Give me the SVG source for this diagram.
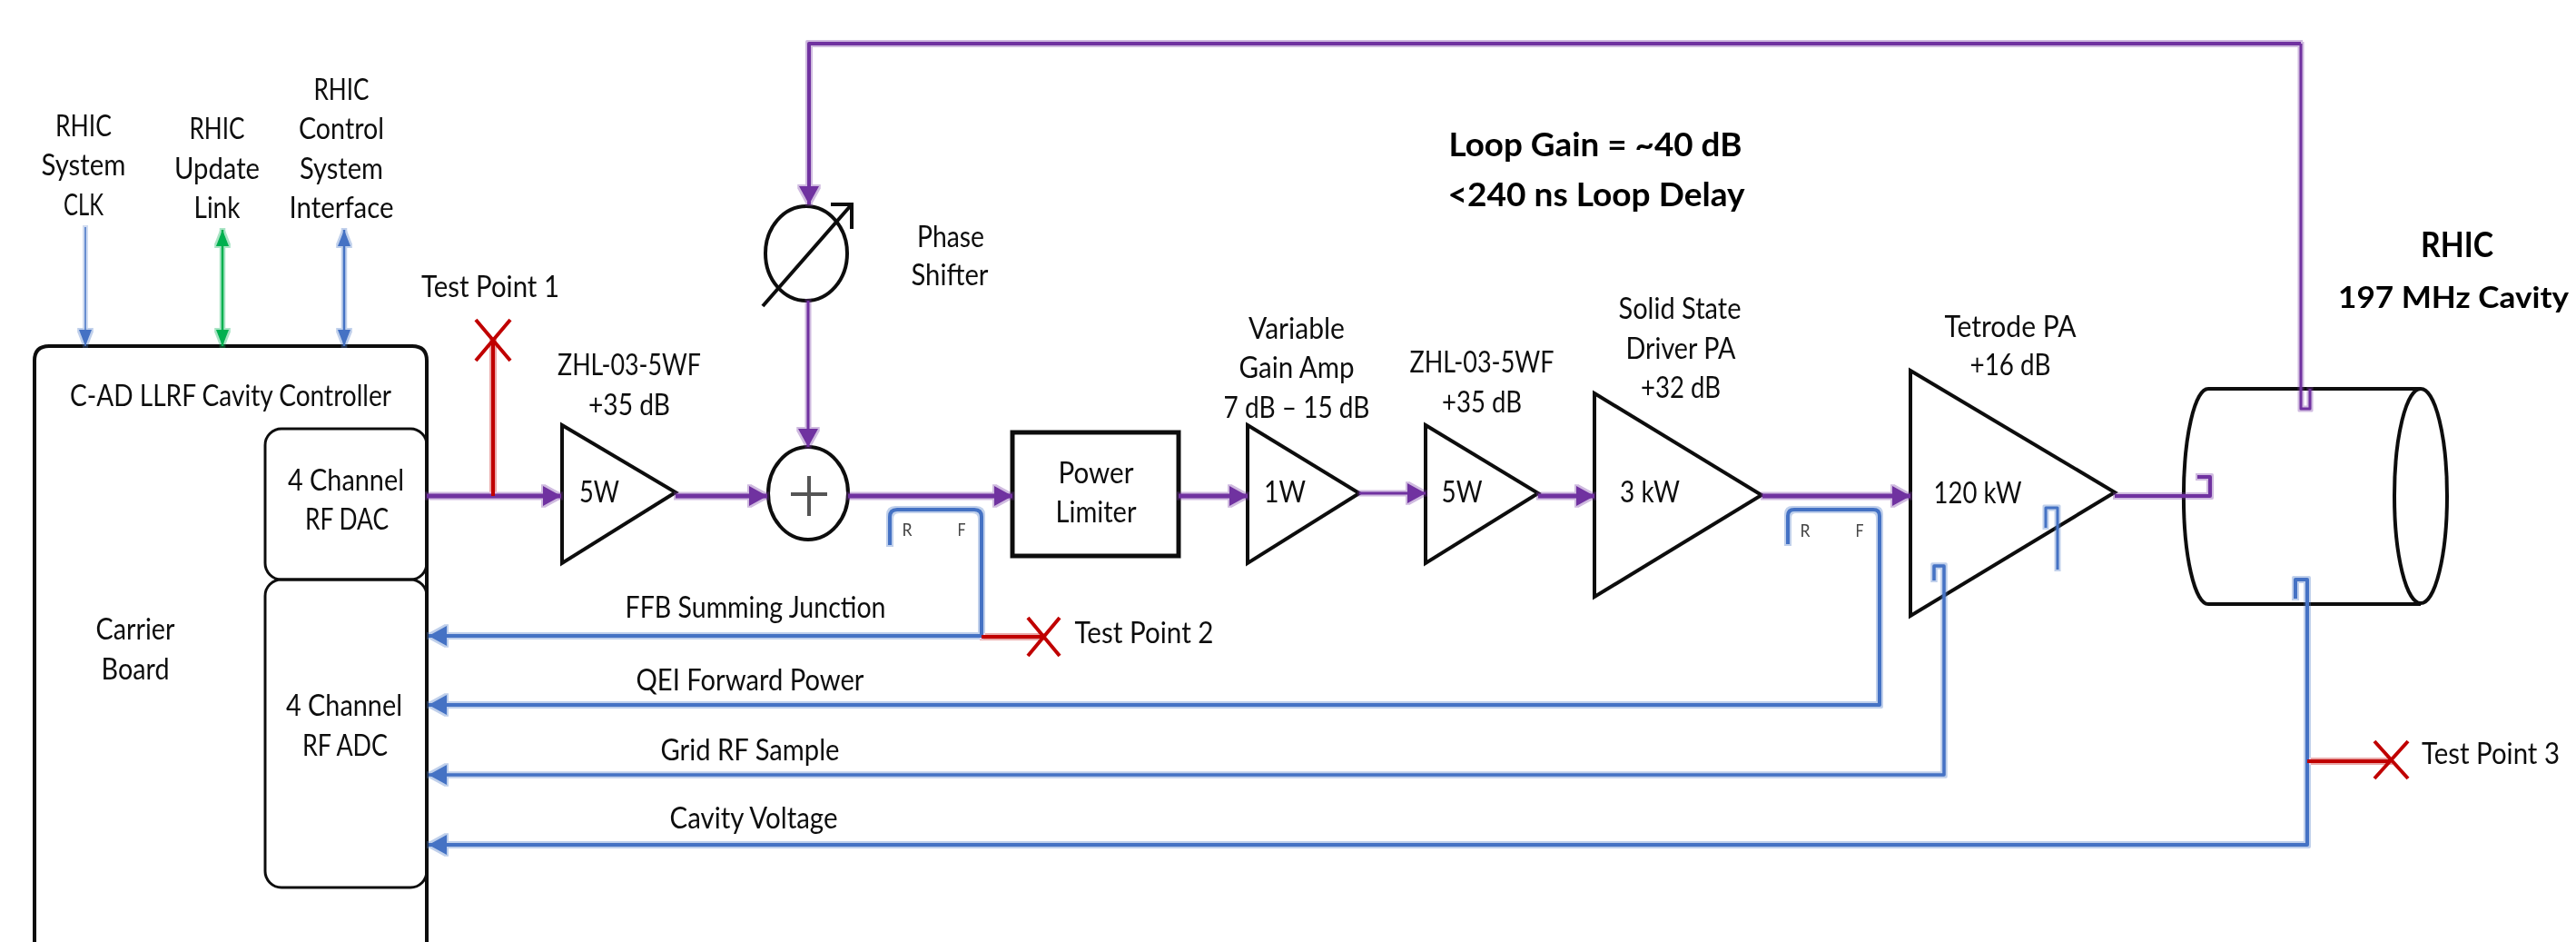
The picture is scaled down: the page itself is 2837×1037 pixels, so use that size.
<svg xmlns="http://www.w3.org/2000/svg" width="2837" height="1037" viewBox="0 0 2837 1037">
<style>
text{font-family:"Lato","Open Sans","Liberation Sans",sans-serif;font-size:33px;fill:#111;text-anchor:middle}
.b{font-weight:700;font-size:38px;fill:#000}
.s{font-size:20px;fill:#444}
.n{fill:none;stroke:#111;stroke-width:4;stroke-linejoin:miter}
.c{fill:none;stroke-linejoin:round}
.p{stroke:#7030A0;stroke-width:5}
.p3{stroke:#7030A0;stroke-width:3}
.u{stroke:#4472C4;stroke-width:4}
.u3{stroke:#4472C4;stroke-width:3}
.g{stroke:#00B050;stroke-width:2.5}
.r{stroke:#C00000;stroke-width:4}
.x{fill:none;stroke:#C00000;stroke-width:4}
</style>
<defs>
<marker id="ap" markerUnits="userSpaceOnUse" markerWidth="22" markerHeight="24" refX="20" refY="12" orient="auto"><path d="M0 1L20 12L0 23Z" fill="#7030A0"/></marker>
<marker id="ab" markerUnits="userSpaceOnUse" markerWidth="22" markerHeight="24" refX="20" refY="12" orient="auto"><path d="M0 1L20 12L0 23Z" fill="#4472C4"/></marker>
<marker id="as" markerUnits="userSpaceOnUse" markerWidth="20" markerHeight="18" refX="18" refY="9" orient="auto-start-reverse"><path d="M0 2L18 9L0 16Z" fill="#4472C4"/></marker>
<marker id="ag" markerUnits="userSpaceOnUse" markerWidth="20" markerHeight="18" refX="18" refY="9" orient="auto-start-reverse"><path d="M0 2L18 9L0 16Z" fill="#00B050"/></marker>
<filter id="halo" filterUnits="userSpaceOnUse" x="0" y="0" width="2837" height="1037"><feMorphology in="SourceGraphic" operator="dilate" radius="2" result="d"/><feComponentTransfer in="d" result="l"><feFuncA type="linear" slope="0.34"/></feComponentTransfer><feMerge><feMergeNode in="l"/><feMergeNode in="SourceGraphic"/></feMerge></filter>
<filter id="soft" filterUnits="userSpaceOnUse" x="0" y="0" width="2837" height="1037"><feGaussianBlur stdDeviation="0.55"/></filter>
</defs>
<rect width="2837" height="1037" fill="#fff"/>
<g filter="url(#soft)">
<g id="labels-inputs">
<text x="92" y="150" textLength="62" lengthAdjust="spacingAndGlyphs">RHIC</text>
<text x="92" y="193" textLength="93" lengthAdjust="spacingAndGlyphs">System</text>
<text x="92" y="237" textLength="44" lengthAdjust="spacingAndGlyphs">CLK</text>
<text x="239" y="153" textLength="61" lengthAdjust="spacingAndGlyphs">RHIC</text>
<text x="239" y="197" textLength="94" lengthAdjust="spacingAndGlyphs">Update</text>
<text x="239" y="240" textLength="51" lengthAdjust="spacingAndGlyphs">Link</text>
<text x="376" y="110" textLength="61" lengthAdjust="spacingAndGlyphs">RHIC</text>
<text x="376" y="153" textLength="94" lengthAdjust="spacingAndGlyphs">Control</text>
<text x="376" y="197" textLength="92" lengthAdjust="spacingAndGlyphs">System</text>
<text x="376" y="240" textLength="115" lengthAdjust="spacingAndGlyphs">Interface</text>
</g>
<g id="controller">
<path class="n" d="M38 1040V397Q38 381 54 381H454Q470 381 470 397V1040"/>
<text x="254" y="447" textLength="354" lengthAdjust="spacingAndGlyphs">C-AD LLRF Cavity Controller</text>
<text x="149" y="704" textLength="87" lengthAdjust="spacingAndGlyphs">Carrier</text>
<text x="149" y="748" textLength="75" lengthAdjust="spacingAndGlyphs">Board</text>
</g>
<g id="rf-dac">
<rect class="n" style="stroke-width:3" x="292" y="472" width="178" height="166" rx="18"/>
<text x="381" y="540" textLength="128" lengthAdjust="spacingAndGlyphs">4 Channel</text>
<text x="382" y="583" textLength="92" lengthAdjust="spacingAndGlyphs">RF DAC</text>
</g>
<g id="rf-adc">
<rect class="n" style="stroke-width:3" x="292" y="638" width="178" height="339" rx="18"/>
<text x="379" y="788" textLength="128" lengthAdjust="spacingAndGlyphs">4 Channel</text>
<text x="380" y="832" textLength="94" lengthAdjust="spacingAndGlyphs">RF ADC</text>
</g>
<g id="amp-5w-a">
<path class="n" d="M619 468L744 542L619 620Z"/>
<text x="660" y="553" textLength="44" lengthAdjust="spacingAndGlyphs">5W</text>
<text x="693" y="413" textLength="158" lengthAdjust="spacingAndGlyphs">ZHL-03-5WF</text>
<text x="693" y="457" textLength="90" lengthAdjust="spacingAndGlyphs">+35 dB</text>
</g>
<g id="phase-shifter">
<ellipse class="n" cx="888" cy="279" rx="45" ry="52"/>
<path class="n" d="M840 337L938 225M915 225H938V252"/>
<text x="1047" y="272" textLength="74" lengthAdjust="spacingAndGlyphs">Phase</text>
<text x="1046" y="314" textLength="85" lengthAdjust="spacingAndGlyphs">Shifter</text>
</g>
<g id="summing-junction">
<ellipse class="n" cx="890" cy="543" rx="44" ry="51"/>
<path d="M871 544H911M891 524V568" fill="none" stroke="#555" stroke-width="4"/>
</g>
<g id="power-limiter">
<rect class="n" style="stroke-width:5" x="1115" y="476" width="183" height="136"/>
<text x="1207" y="532" textLength="83" lengthAdjust="spacingAndGlyphs">Power</text>
<text x="1207" y="575" textLength="89" lengthAdjust="spacingAndGlyphs">Limiter</text>
</g>
<g id="amp-1w">
<path class="n" d="M1374 468L1497 543L1374 620Z"/>
<text x="1415" y="553" textLength="46" lengthAdjust="spacingAndGlyphs">1W</text>
<text x="1428" y="373" textLength="106" lengthAdjust="spacingAndGlyphs">Variable</text>
<text x="1428" y="416" textLength="127" lengthAdjust="spacingAndGlyphs">Gain Amp</text>
<text x="1428" y="460" textLength="161" lengthAdjust="spacingAndGlyphs">7 dB – 15 dB</text>
</g>
<g id="amp-5w-b">
<path class="n" d="M1570 468L1694 543L1570 620Z"/>
<text x="1610" y="553" textLength="45" lengthAdjust="spacingAndGlyphs">5W</text>
<text x="1632" y="410" textLength="159" lengthAdjust="spacingAndGlyphs">ZHL-03-5WF</text>
<text x="1632" y="454" textLength="88" lengthAdjust="spacingAndGlyphs">+35 dB</text>
</g>
<g id="amp-driver">
<path class="n" d="M1756 433L1940 545L1756 657Z"/>
<text x="1817" y="553" textLength="66" lengthAdjust="spacingAndGlyphs">3 kW</text>
<text x="1850" y="351" textLength="135" lengthAdjust="spacingAndGlyphs">Solid State</text>
<text x="1851" y="395" textLength="121" lengthAdjust="spacingAndGlyphs">Driver PA</text>
<text x="1851" y="438" textLength="88" lengthAdjust="spacingAndGlyphs">+32 dB</text>
</g>
<g id="amp-tetrode">
<path class="n" d="M2104 408L2329 542L2104 678Z"/>
<text x="2178" y="554" textLength="97" lengthAdjust="spacingAndGlyphs">120 kW</text>
<text x="2214" y="371" textLength="145" lengthAdjust="spacingAndGlyphs">Tetrode PA</text>
<text x="2214" y="413" textLength="89" lengthAdjust="spacingAndGlyphs">+16 dB</text>
</g>
<g id="cavity">
<path class="n" d="M2432 428H2666M2432 665H2666M2432 428A27 118 0 0 0 2432 665"/>
<ellipse class="n" cx="2666" cy="546" rx="29" ry="118"/>
<text class="b" x="2706" y="283" textLength="80" lengthAdjust="spacingAndGlyphs">RHIC</text>
<text class="b" x="2702" y="339" style="font-size:33px" textLength="254" lengthAdjust="spacingAndGlyphs">197 MHz Cavity</text>
</g>
<g id="loop-notes">
<text class="b" x="1757" y="172" style="font-size:36px" textLength="323" lengthAdjust="spacingAndGlyphs">Loop Gain = ~40 dB</text>
<text class="b" x="1758" y="227" style="font-size:36px" textLength="327" lengthAdjust="spacingAndGlyphs">&lt;240 ns Loop Delay</text>
</g>
<g id="test-points">
<text x="540" y="327" textLength="152" lengthAdjust="spacingAndGlyphs">Test Point 1</text>
<text x="1260" y="708" textLength="153" lengthAdjust="spacingAndGlyphs">Test Point 2</text>
<text x="2743" y="841" textLength="152" lengthAdjust="spacingAndGlyphs">Test Point 3</text>
<path class="x" d="M524 352L562 397M562 352L524 397"/>
<path class="x" d="M1132 680L1167 722M1167 680L1132 722"/>
<path class="x" d="M2615 816L2652 857M2652 816L2615 857"/>
</g>
<g id="coupler-labels">
<text class="s" x="999" y="590" textLength="11" lengthAdjust="spacingAndGlyphs">R</text>
<text class="s" x="1059" y="590" textLength="9" lengthAdjust="spacingAndGlyphs">F</text>
<text class="s" x="1988" y="591" textLength="11" lengthAdjust="spacingAndGlyphs">R</text>
<text class="s" x="2048" y="591" textLength="9" lengthAdjust="spacingAndGlyphs">F</text>
</g>
<g id="labels-feedback">
<text x="832" y="680" textLength="287" lengthAdjust="spacingAndGlyphs">FFB Summing Junction</text>
<text x="826" y="760" textLength="251" lengthAdjust="spacingAndGlyphs">QEI Forward Power</text>
<text x="826" y="837" textLength="197" lengthAdjust="spacingAndGlyphs">Grid RF Sample</text>
<text x="830" y="912" textLength="185" lengthAdjust="spacingAndGlyphs">Cavity Voltage</text>
</g>
<g id="connectors" filter="url(#halo)">
<path class="c" stroke="#4472C4" stroke-width="1.5" d="M94 250V381" marker-end="url(#as)"/>
<path class="c g" d="M245 253V381" marker-start="url(#ag)" marker-end="url(#ag)"/>
<path class="c" stroke="#4472C4" stroke-width="2.5" d="M379 253V381" marker-start="url(#as)" marker-end="url(#as)"/>
<path class="c p" d="M470 546H618" marker-end="url(#ap)"/>
<path class="c p" d="M744 546H845" marker-end="url(#ap)"/>
<path class="c p" d="M934 546H1115" marker-end="url(#ap)"/>
<path class="c p" d="M1298 546H1374" marker-end="url(#ap)"/>
<path class="c p3" d="M1497 543H1570" marker-end="url(#ap)"/>
<path class="c p" d="M1694 546H1756" marker-end="url(#ap)"/>
<path class="c p" d="M1941 546H2104" marker-end="url(#ap)"/>
<path class="c p" d="M2329 546H2434V525H2420" style="stroke-width:4"/>
<path class="c p3" d="M2544 428V450H2534V48"/>
<path class="c p" d="M2534 48H891V225" style="stroke-width:4" marker-end="url(#ap)"/>
<path class="c p3" d="M890 331V492" marker-end="url(#ap)"/>
<path class="c u" d="M980 600V569Q980 561 988 561H1073Q1081 561 1081 569V700H472" marker-end="url(#ab)"/>
<path class="c u" d="M1969 599V568Q1969 561 1976 561H2063Q2070 561 2070 568V776H472" marker-end="url(#ab)"/>
<path class="c u" d="M2130 639V623H2141V853H472" style="stroke-width:3.5" marker-end="url(#ab)"/>
<path class="c u3" d="M2253 581V559H2266V627"/>
<path class="c u" d="M2528 659V638H2541V930H472" marker-end="url(#ab)"/>
<path class="c r" d="M543 546V373"/>
<path class="c r" d="M1081 701H1149"/>
<path class="c r" d="M2541 838H2633"/>
</g>
</g>
</svg>
